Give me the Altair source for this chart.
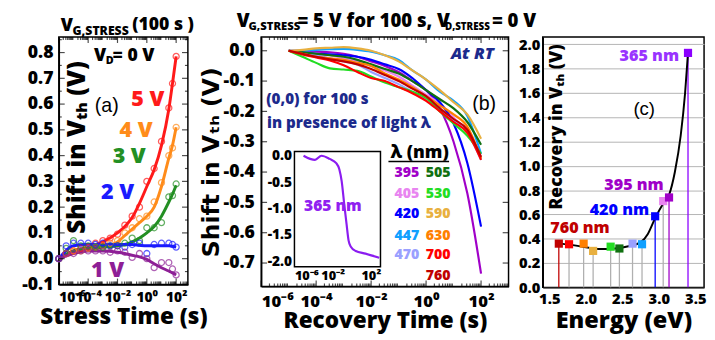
import math
import altair as alt
import pandas as pd

FONT = "Open Sans"
WIDE = "DejaVu Sans"
ARIAL = "Liberation Sans"
NAVY = "#1c2a8c"
HEAVY = 800

# ---------------- shared tick text ----------------
EXP_TICKS = [-6, -4, -2, 0, 2]
EXP_TEXT = ["10⁻⁶", "10⁻⁴", "10⁻²", "10⁰", "10²"]
INSET_TICKS = [-6, -2, 2]
INSET_TEXT = ["10⁻⁶", "10⁻²", "10²"]

# ---------------- panel (a) data ----------------
A_LABELS = ["5 V", "4 V", "3 V", "2 V", "1 V"]
A_COLORS = ["#ff1a1a", "#ff8c1a", "#238f23", "#1a1aff", "#8e1f96"]
A_CIRC_T = [-6, -5.5, -5, -4.5, -4, -3.5, -3, -2.5, -2, -1.5, -1, -0.5, 0, 0.5, 1, 1.5, 1.75, 2]
A_CIRC_5V = [0, 0.02, 0.03, 0.04, 0.045, 0.06, 0.07, 0.08, 0.095, 0.13, 0.165, 0.20, 0.30, 0.35, 0.455, 0.585, 0.68, 0.785]
A_CIRC_4V = [0, 0.02, 0.03, 0.03, 0.04, 0.045, 0.05, 0.06, 0.07, 0.10, 0.12, 0.155, 0.165, 0.22, 0.295, 0.40, 0.43, 0.51]
A_CIRC_3V = [0, 0.04, 0.07, 0.05, 0.05, 0.045, 0.045, 0.05, 0.05, 0.06, 0.08, 0.07, 0.12, 0.12, 0.14, 0.24, 0.245, 0.29]
A_CIRC_2V = [0, 0.05, 0.06, 0.06, 0.06, 0.055, 0.06, 0.05, 0.05, 0.045, 0.055, 0.06, 0.02, 0.055, 0.06, 0.06, 0.055, 0.045]
A_CIRC_1V = [0, 0.02, 0.02, 0.03, 0.03, 0.03, 0.03, 0.025, 0.03, 0.025, 0.005, 0.02, 0.0, -0.035, -0.015, -0.015, -0.04, -0.063]
A_LINE_T = [-6, -5, -4, -3, -2, -1.5, -1, -0.5, 0, 0.5, 1, 1.5, 1.75, 2]
A_LINE_5V = [0, 0.03, 0.045, 0.065, 0.10, 0.125, 0.16, 0.215, 0.28, 0.345, 0.44, 0.58, 0.68, 0.785]
A_LINE_4V = [0, 0.025, 0.035, 0.045, 0.065, 0.09, 0.115, 0.14, 0.165, 0.20, 0.28, 0.39, 0.44, 0.51]
A_LINE_3V = [0, 0.03, 0.04, 0.045, 0.05, 0.055, 0.065, 0.08, 0.10, 0.125, 0.165, 0.22, 0.25, 0.285]
A_LINE_2V = [0, 0.05, 0.055, 0.055, 0.055, 0.055, 0.055, 0.052, 0.05, 0.05, 0.05, 0.05, 0.048, 0.045]
A_LINE_1V = [0, 0.02, 0.03, 0.03, 0.025, 0.02, 0.013, 0.007, -0.003, -0.02, -0.035, -0.048, -0.055, -0.063]
A_TEXT_T = [0.07, -0.73, -1.2, -2.0, -2.67]
A_TEXT_V = [0.621, 0.50, 0.398, 0.258, -0.045]
A_YTICKS = [-0.1, 0.0, 0.1, 0.2, 0.3, 0.4, 0.5, 0.6, 0.7, 0.8]
A_YMINOR = [-0.05, 0.05, 0.15, 0.25, 0.35, 0.45, 0.55, 0.65, 0.75, 0.85]

# ---------------- panel (b) data ----------------
B_WL = ["395", "405", "420", "447", "470", "505", "530", "590", "630", "700", "760"]
B_COLORS = ["#a000c8", "#e884f0", "#0000ff", "#10a0ff", "#9aa0ff", "#107010", "#22dd22", "#e8b040", "#ff8000", "#ff0000", "#c00000"]
B_T = [-5, -4.5, -4, -3.5, -3, -2.5, -2, -1.5, -1, -0.5, 0, 0.5, 1, 1.5, 2]
B_395 = [0, 0.0, -0.003, -0.005, -0.01, -0.02, -0.035, -0.05, -0.07, -0.10, -0.13, -0.19, -0.30, -0.47, -0.735]
B_405 = [0, -0.005, -0.01, -0.015, -0.025, -0.035, -0.05, -0.065, -0.085, -0.115, -0.145, -0.175, -0.22, -0.27, -0.35]
B_420 = [0, -0.005, -0.01, -0.012, -0.015, -0.02, -0.03, -0.045, -0.06, -0.09, -0.13, -0.17, -0.24, -0.37, -0.58]
B_447 = [0, 0.0, 0.003, 0.005, 0.006, 0.003, -0.003, -0.015, -0.03, -0.065, -0.095, -0.135, -0.165, -0.215, -0.34]
B_470 = [0, -0.008, -0.015, -0.025, -0.035, -0.045, -0.07, -0.09, -0.11, -0.135, -0.16, -0.19, -0.23, -0.27, -0.36]
B_505 = [0, -0.005, -0.01, -0.015, -0.02, -0.03, -0.045, -0.06, -0.075, -0.10, -0.13, -0.16, -0.19, -0.235, -0.31]
B_530 = [0, -0.02, -0.04, -0.058, -0.062, -0.066, -0.085, -0.105, -0.12, -0.135, -0.155, -0.20, -0.24, -0.28, -0.34]
B_590 = [0, 0.003, 0.008, 0.01, 0.012, 0.008, 0.0, -0.015, -0.035, -0.065, -0.095, -0.13, -0.17, -0.21, -0.29]
B_630 = [0, -0.01, -0.02, -0.025, -0.03, -0.04, -0.05, -0.075, -0.095, -0.12, -0.15, -0.18, -0.21, -0.25, -0.355]
B_700 = [0, -0.012, -0.022, -0.032, -0.048, -0.07, -0.09, -0.10, -0.12, -0.14, -0.165, -0.20, -0.235, -0.27, -0.36]
B_760 = [0, -0.01, -0.02, -0.028, -0.035, -0.045, -0.06, -0.08, -0.10, -0.125, -0.15, -0.19, -0.225, -0.26, -0.35]
B_YTICKS = [0.0, -0.1, -0.2, -0.3, -0.4, -0.5, -0.6, -0.7]
B_LEG_COL1 = ["395", "405", "420", "447", "470"]
B_LEG_COL2 = ["505", "530", "590", "630", "700", "760"]
B_LEG_X = [-0.70, 0.44]
B_LEG_ROWS = [-0.403, -0.471, -0.540, -0.610, -0.675, -0.742]
# inset (365 nm)
IN_T = [-5.05, -4.36, -3.85, -3.17, -2.32, -1.63, -1.30, -1.06, -0.79, -0.55, -0.34, -0.10, 0.41, 1.43, 2.87]
IN_V = [0.0, -0.06, -0.08, 0.0, -0.06, -0.14, -0.26, -0.48, -0.92, -1.29, -1.60, -1.72, -1.80, -1.85, -1.93]
IN_YTICKS = [0.0, -0.5, -1.0, -1.5, -2.0]

# ---------------- panel (c) data ----------------
C_WL = ["760", "700", "630", "590", "530", "505", "470", "447", "420", "405", "395", "365"]
C_E = [1.63, 1.77, 1.97, 2.10, 2.34, 2.46, 2.64, 2.77, 2.95, 3.06, 3.14, 3.40]
C_REC = [0.36, 0.355, 0.36, 0.30, 0.335, 0.32, 0.36, 0.355, 0.585, 0.71, 0.74, 1.93]
C_COLORS = ["#c00000", "#ff0000", "#ff8000", "#e8b040", "#22dd22", "#107010", "#9aa0ff", "#10a0ff", "#0000ff", "#e884f0", "#a000c8", "#8b00ff"]
C_DROP = ["#c00000", "#b0b0b0", "#b0b0b0", "#b0b0b0", "#b0b0b0", "#b0b0b0", "#b0b0b0", "#b0b0b0", "#0000ff", "#b0b0b0", "#a000c8", "#8b00ff"]
C_FIT_E = [1.63, 1.8, 2.0, 2.2, 2.4, 2.6, 2.75, 2.85, 2.95, 3.05, 3.14, 3.22, 3.30, 3.36, 3.40]
C_FIT_R = [0.36, 0.35, 0.33, 0.315, 0.32, 0.34, 0.37, 0.44, 0.57, 0.68, 0.76, 0.95, 1.25, 1.6, 1.93]
C_XTICKS = [1.5, 2.0, 2.5, 3.0, 3.5]
C_YTICKS = [0.0, 0.2, 0.4, 0.6, 0.8, 1.0, 1.2, 1.4, 1.6, 1.8, 2.0]
C_NOTE_TEXT = ["365 nm", "395 nm", "420 nm", "760 nm"]
C_NOTE_E = [2.87, 2.66, 2.46, 1.92]
C_NOTE_R = [1.906, 0.84, 0.64, 0.49]
C_NOTE_COLOR = ["#9933ff", "#a000c8", "#0000ff", "#c00000"]


def label_expr(ticks, texts):
    expr = "''"
    for t, s in zip(ticks, texts):
        expr = f"(datum.value == {t}) ? '{s}' : {expr}"
    return expr


NUM_EXPR = "replace(format(datum.value, '.1f'), '\u2212', '-')"
ONE = pd.DataFrame({"k": [0]})
NOSCALE = None


def ptext(text, x, y, size, color="black", weight=HEAVY, font=FONT, align="left",
          baseline="middle", angle=0, style="normal"):
    return alt.Chart(ONE).mark_text(
        text=text, fontSize=size, color=color, fontWeight=weight, font=font,
        align=align, baseline=baseline, angle=angle, fontStyle=style
    ).encode(x=alt.value(x), y=alt.value(y))


def log_minor(lo, hi):
    out = []
    for d in range(int(math.floor(lo)), int(math.ceil(hi)) + 1):
        for k in range(2, 10):
            v = d + math.log10(k)
            if lo < v < hi:
                out.append(v)
    return out


def ticks_layers(xenc, yenc, xf, yf, xmaj, xmin, ymaj, ymin, W, H, big=6, small=3):
    layers = []
    for vals, size in ((xmaj, big), (xmin, small)):
        if vals:
            d = pd.DataFrame({xf: vals})
            for yy in (size / 2, H - size / 2):
                layers.append(alt.Chart(d).mark_tick(orient="vertical", size=size, thickness=1.2, color="black")
                              .encode(x=xenc, y=alt.value(yy)))
    for vals, size in ((ymaj, big), (ymin, small)):
        if vals:
            d = pd.DataFrame({yf: vals})
            for xx in (size / 2, W - size / 2):
                layers.append(alt.Chart(d).mark_tick(orient="horizontal", size=size, thickness=1.2, color="black")
                              .encode(y=yenc, x=alt.value(xx)))
    return layers


def col(field):
    return alt.Color(field, scale=NOSCALE, legend=None)


# ================= panel (a) =================
AW, AH = 132, 253
ax = alt.X("t:Q", scale=alt.Scale(domain=[-6, 2.8], nice=False, zero=False),
           axis=alt.Axis(values=EXP_TICKS, labelExpr=label_expr(EXP_TICKS, EXP_TEXT), labelOverlap=False,
                         labelFontSize=14, labelPadding=6, title="Stress Time (s)", titleFontSize=23,
                         titlePadding=2))
ay = alt.Y("v:Q", scale=alt.Scale(domain=[-0.1, 0.86], nice=False, zero=False),
           axis=alt.Axis(values=A_YTICKS, labelExpr=NUM_EXPR, labelFontSize=18, labelPadding=6, title=None))

a_circ_rows, a_line_rows = [], []
for lab, c, circ, line in zip(A_LABELS, A_COLORS, [A_CIRC_5V, A_CIRC_4V, A_CIRC_3V, A_CIRC_2V, A_CIRC_1V],
                              [A_LINE_5V, A_LINE_4V, A_LINE_3V, A_LINE_2V, A_LINE_1V]):
    a_circ_rows += [{"t": t, "v": v, "s": lab, "c": c} for t, v in zip(A_CIRC_T, circ)]
    a_line_rows += [{"t": t, "v": v, "s": lab, "c": c} for t, v in zip(A_LINE_T, line)]
a_text = pd.DataFrame({"t": A_TEXT_T, "v": A_TEXT_V, "s": A_LABELS, "c": A_COLORS})

a_lines = alt.Chart(pd.DataFrame(a_line_rows)).mark_line(strokeWidth=3, interpolate="monotone").encode(
    x=ax, y=ay, color=col("c:N"), detail="s:N")
a_pts = alt.Chart(pd.DataFrame(a_circ_rows)).mark_point(shape="circle", filled=False, size=38, strokeWidth=1.3).encode(
    x=ax, y=ay, color=col("c:N"))
a_lab = alt.Chart(a_text).mark_text(fontSize=22, font=FONT, fontWeight=HEAVY).encode(
    x=ax, y=ay, color=col("c:N"), text="s:N")

a_layers = [a_lines, a_pts, a_lab]
a_layers += ticks_layers(ax, ay, "t", "v", EXP_TICKS, log_minor(-6, 2.8), A_YTICKS, A_YMINOR, AW, AH)
a_layers += [
    ptext("Shift in Vₜₕ (V)", 19, 113, 25, align="center", angle=270),
    ptext("(a)", 49, 71, 20, weight="normal", font=ARIAL, align="center"),
    ptext("V", 36, 19, 18),
    ptext("D", 48, 25, 11),
    ptext("= 0 V", 55, 19, 18),
    ptext("V", 2, -11, 18),
    ptext("G,STRESS", 14, -6, 12.5),
    ptext("(100 s )", 75, -12, 18),
]
panel_a = alt.layer(*a_layers).properties(width=AW, height=AH)

# ================= panel (b) =================
BW, BH = 253, 255
bx = alt.X("t:Q", scale=alt.Scale(domain=[-6, 3], nice=False, zero=False),
           axis=alt.Axis(orient="bottom", values=EXP_TICKS, labelExpr=label_expr(EXP_TICKS, EXP_TEXT),
                         labelOverlap=False, labelFontSize=17, labelPadding=8, title="Recovery Time (s)",
                         titleFontSize=23, titlePadding=0))
by = alt.Y("v:Q", scale=alt.Scale(domain=[-0.777, 0.045], nice=False, zero=False),
           axis=alt.Axis(orient="left", values=B_YTICKS, labelExpr=NUM_EXPR, labelFontSize=18, labelPadding=7,
                         title="Shift in Vₜₕ (V)", titleFont=WIDE, titleFontWeight="bold", titleFontSize=24,
                         titlePadding=0))

b_rows = []
for wl, c, vals in zip(B_WL, B_COLORS, [B_395, B_405, B_420, B_447, B_470, B_505, B_530, B_590, B_630, B_700, B_760]):
    b_rows += [{"t": t, "v": v, "w": wl, "c": c} for t, v in zip(B_T, vals)]
b_lines = alt.Chart(pd.DataFrame(b_rows)).mark_line(strokeWidth=2.2, interpolate="monotone").encode(
    x=bx, y=by, color=col("c:N"), detail="w:N")

wl_color = dict(zip(B_WL, B_COLORS))
leg_rows = []
for ci, column in enumerate([B_LEG_COL1, B_LEG_COL2]):
    for ri, wl in enumerate(column):
        leg_rows.append({"t": B_LEG_X[ci], "v": B_LEG_ROWS[ri], "w": wl, "c": wl_color[wl]})
b_leg = alt.Chart(pd.DataFrame(leg_rows)).mark_text(fontSize=14.5, font=FONT, fontWeight=HEAVY).encode(
    x=bx, y=by, color=col("c:N"), text="w:N")

b_notes = pd.DataFrame({
    "t": [2.47, -5.82, -5.79, -0.235],
    "v": [-0.01, -0.161, -0.239, -0.339],
    "txt": ["At RT", "(0,0) for 100 s", "in presence of light λ", "λ (nm)"],
})
b_note_layers = [
    alt.Chart(b_notes.iloc[[0]]).mark_text(fontSize=17, font=FONT, fontWeight=HEAVY, fontStyle="italic",
                                           color=NAVY, align="right").encode(x=bx, y=by, text="txt:N"),
    alt.Chart(b_notes.iloc[[1, 2]]).mark_text(fontSize=15.5, font=FONT, fontWeight=HEAVY, color=NAVY,
                                              align="left").encode(x=bx, y=by, text="txt:N"),
    alt.Chart(b_notes.iloc[[3]]).mark_text(fontSize=18, font=FONT, fontWeight=HEAVY, color="black",
                                           align="center").encode(x=bx, y=by, text="txt:N"),
    alt.Chart(pd.DataFrame({"t": [-1.37], "t2": [0.836], "v": [-0.365]})).mark_rule(
        color="black", strokeWidth=1.5).encode(x=bx, x2="t2:Q", y=by),
    alt.Chart(pd.DataFrame({"t": [2.11], "v": [-0.177], "txt": ["(b)"]})).mark_text(
        fontSize=20, font=ARIAL, color="black").encode(x=bx, y=by, text="txt:N"),
]
b_main = [b_lines, b_leg] + b_note_layers
b_main += ticks_layers(bx, by, "t", "v", EXP_TICKS, log_minor(-6, 3), B_YTICKS, [], BW, BH)
b_main += [
    ptext("V", -25, -16, 19),
    ptext("G,STRESS", -13, -10, 11.5),
    ptext("= 5 V for 100 s, V", 37, -16, 19),
    ptext("D,STRESS", 188, -10, 10),
    ptext("= 0 V", 236, -16, 19),
]

# inset with its own scales
ix = alt.X("it:Q", scale=alt.Scale(domain=[-6, 3], range=[34, 122], nice=False, zero=False),
           axis=alt.Axis(orient="bottom", offset=-20, values=INSET_TICKS,
                         labelExpr=label_expr(INSET_TICKS, INSET_TEXT), labelOverlap=False, labelFontSize=13,
                         labelPadding=3, title=None, domain=False))
iy = alt.Y("iv:Q", scale=alt.Scale(domain=[-2.1, 0.08], range=[235, 117], nice=False, zero=False),
           axis=alt.Axis(orient="left", offset=-34, values=IN_YTICKS, labelExpr=NUM_EXPR, labelFontSize=14,
                         labelPadding=3, title=None, domain=False))
inset_box = alt.Chart(ONE).mark_rect(fill="white", stroke="black", strokeWidth=1.5).encode(
    x=alt.value(34), x2=alt.value(122), y=alt.value(117), y2=alt.value(235))
inset_line = alt.Chart(pd.DataFrame({"it": IN_T, "iv": IN_V})).mark_line(
    color="#8b1cf0", strokeWidth=2.2, interpolate="monotone").encode(x=ix, y=iy)
inset_txt = alt.Chart(pd.DataFrame({"it": [-1.98], "iv": [-0.96], "txt": ["365 nm"]})).mark_text(
    fontSize=16, font=FONT, fontWeight=HEAVY, color="#9020f0").encode(x=ix, y=iy, text="txt:N")
inset = alt.layer(inset_box, inset_line, inset_txt)

panel_b = alt.layer(alt.layer(*b_main), inset).resolve_scale(x="independent", y="independent").properties(
    width=BW, height=BH)

# ================= panel (c) =================
CW, CH = 165, 256
cx = alt.X("e:Q", scale=alt.Scale(domain=[1.41, 3.62], nice=False, zero=False),
           axis=alt.Axis(values=C_XTICKS, format=".1f", labelFontSize=15, labelPadding=5, labelOverlap=False,
                         title="Energy (eV)", titleFontSize=24, titlePadding=2, grid=False))
cy = alt.Y("r:Q", scale=alt.Scale(domain=[0, 2.06], nice=False, zero=False),
           axis=alt.Axis(values=C_YTICKS, format=".1f", labelFontSize=15, labelPadding=3, title=None,
                         grid=True, gridColor="#b3b3b3", gridWidth=1))
c_df = pd.DataFrame({"e": C_E, "r": C_REC, "c": C_COLORS, "d": C_DROP, "z": [0.0] * len(C_E)})
c_drop = alt.Chart(c_df).mark_rule(strokeWidth=1.3).encode(x=cx, y=cy, y2="z:Q", color=col("d:N"))
c_fit = alt.Chart(pd.DataFrame({"e": C_FIT_E, "r": C_FIT_R})).mark_line(
    color="black", strokeWidth=2, interpolate="monotone").encode(x=cx, y=cy)
c_sq = alt.Chart(c_df).mark_square(size=70, opacity=1).encode(x=cx, y=cy, color=col("c:N"))
c_notes = alt.Chart(pd.DataFrame({"e": C_NOTE_E, "r": C_NOTE_R, "txt": C_NOTE_TEXT, "c": C_NOTE_COLOR})).mark_text(
    fontSize=16.5, font=FONT, fontWeight=HEAVY).encode(x=cx, y=cy, text="txt:N", color=col("c:N"))
c_tag = alt.Chart(pd.DataFrame({"e": [2.80], "r": [1.47], "txt": ["(c)"]})).mark_text(
    fontSize=19, font=ARIAL).encode(x=cx, y=cy, text="txt:N")
panel_c = alt.layer(
    c_drop, c_fit, c_sq, c_notes, c_tag,
    ptext("Recovery in Vₜₕ (V)", 15, 92, 18, align="center", angle=270),
).properties(width=CW, height=CH)

spacer = alt.Chart(ONE).mark_point(opacity=0).encode(x=alt.value(0), y=alt.value(0)).properties(
    width=5, height=5, view=alt.ViewBackground(strokeOpacity=0))

chart = alt.hconcat(panel_a, spacer, panel_b, panel_c, spacing=35, bounds="flush").properties(
    padding={"left": 13, "top": 0, "right": 0, "bottom": 0}
).configure_view(stroke="black", strokeWidth=1.5).configure_axis(
    domainColor="black", domainWidth=1.5, ticks=False, grid=False, labelColor="black", titleColor="black",
    labelFont=FONT, titleFont=FONT, labelFontWeight=HEAVY, titleFontWeight=HEAVY
)

chart.save("out.html", embed_options={"renderer": "svg", "actions": False})
